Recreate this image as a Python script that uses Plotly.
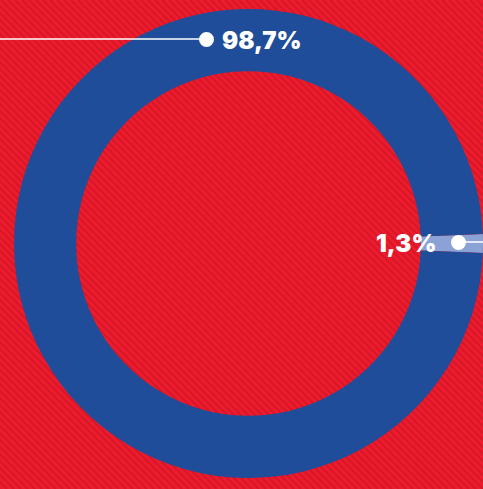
import plotly.graph_objects as go

W, H = 483, 489

labels = ["Minority", "Majority"]
values = [1.3, 98.7]
label_text = ["1,3%", "98,7%"]

RED = "#ee1c2e"
BLUE = "#1f4d9a"
LIGHT_BLUE = "#8aa2d6"

# first slice centred at 3 o'clock
start = 90 - values[0] * 3.6 / 2

fig = go.Figure(
    go.Pie(
        labels=labels,
        values=values,
        sort=False,
        direction="clockwise",
        rotation=start,
        hole=0.735,
        marker=dict(colors=[LIGHT_BLUE, BLUE], line=dict(width=0)),
        textinfo="none",
        hoverinfo="skip",
        showlegend=False,
        domain=dict(x=[14 / W, 1], y=[7 / H, 484 / H]),
    )
)


def px(x):
    return x / W


def py(y):
    return 1 - y / H


# diagonal stripe texture on the background
shapes = []
step = 7
for x in range(-H, W + step, step):
    shapes.append(dict(
        type="line", xref="paper", yref="paper", layer="below",
        x0=px(x), y0=py(0), x1=px(x + H), y1=py(H),
        line=dict(color="rgba(110,0,15,0.16)", width=2.5),
    ))

# leader lines and dots
shapes += [
    dict(type="line", xref="paper", yref="paper", x0=0, x1=px(206), y0=py(39), y1=py(39),
         line=dict(color="white", width=1.5)),
    dict(type="circle", xref="paper", yref="paper", x0=px(199), x1=px(214), y0=py(32), y1=py(47),
         fillcolor="white", line=dict(width=0)),
    dict(type="line", xref="paper", yref="paper", x0=px(458), x1=1, y0=py(242), y1=py(242),
         line=dict(color="white", width=1.5)),
    dict(type="circle", xref="paper", yref="paper", x0=px(451), x1=px(466), y0=py(235), y1=py(250),
         fillcolor="white", line=dict(width=0)),
]

annotations = [
    dict(text=label_text[1], xref="paper", yref="paper", x=px(220), y=py(40), xanchor="left",
         yanchor="middle", showarrow=False,
         font=dict(family="Inter", size=24, color="white", weight=900)),
    dict(text=label_text[0], xref="paper", yref="paper", x=px(438), y=py(243), xanchor="right",
         yanchor="middle", showarrow=False,
         font=dict(family="Inter", size=24, color="white", weight=900)),
]

fig.update_layout(
    width=W,
    height=H,
    margin=dict(l=0, r=0, t=0, b=0),
    paper_bgcolor=RED,
    plot_bgcolor=RED,
    shapes=shapes,
    annotations=annotations,
)

fig.write_html(
    "out.html",
    config={"displayModeBar": False},
    post_script="document.body.style.margin='0';",
)
